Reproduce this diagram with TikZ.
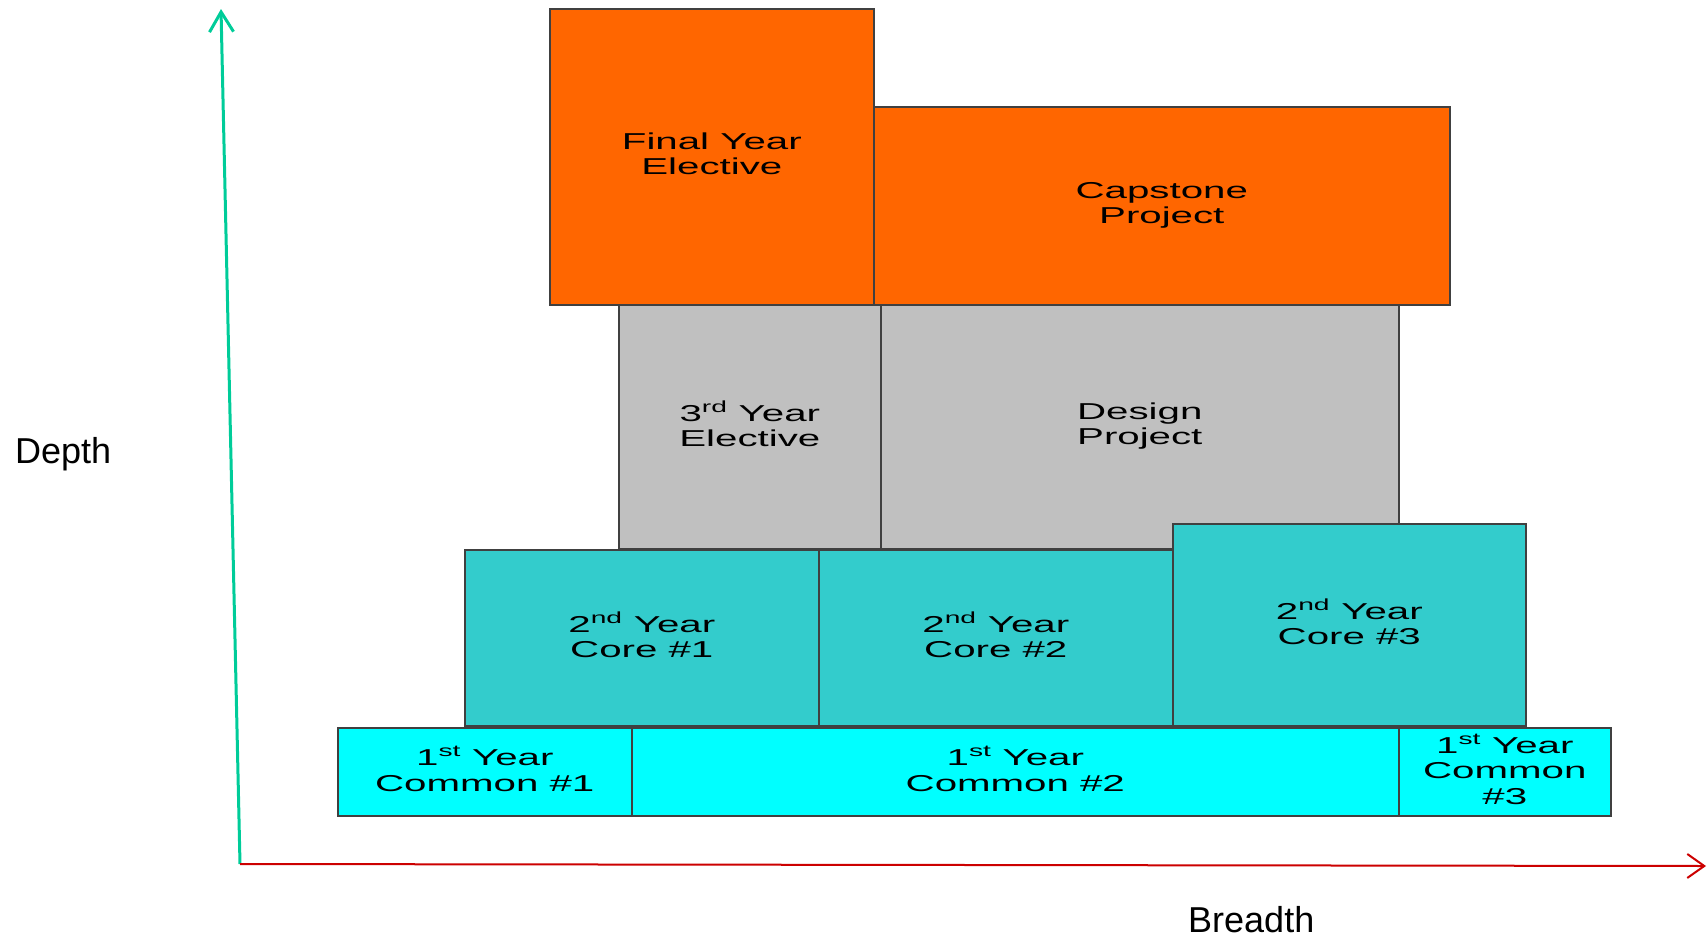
\documentclass[tikz,border=0pt]{standalone}
\usepackage{fontspec}
\setmainfont{Liberation Sans}
\newfontfamily\widefont[FakeStretch=1.75]{Liberation Sans}
\usepackage{xcolor}
\usetikzlibrary{arrows.meta}
\definecolor{hiorange}{HTML}{FF6600}
\definecolor{midgray}{HTML}{C0C0C0}
\definecolor{coreteal}{HTML}{33CCCC}
\definecolor{commoncyan}{HTML}{00FFFF}
\definecolor{axgreen}{HTML}{00CC99}
\definecolor{axred}{HTML}{CC0000}
\tikzset{blk/.style={draw=black!75,line width=1.6pt,anchor=north west,inner sep=0pt,align=center,text depth=6pt,font=\widefont\fontsize{23}{25.5}\selectfont},
         axlbl/.style={anchor=base west,inner sep=0pt,font=\fontsize{36}{40}\selectfont}}

\begin{document}
\begin{tikzpicture}[x=1pt,y=-1pt]
    \useasboundingbox (0,0) rectangle (1708,937);

    \node[blk,fill=hiorange,minimum width=324pt,minimum height=296pt] (fye) at (549,8) {Final Year\\Elective};
    \node[blk,fill=hiorange,minimum width=576pt,minimum height=198pt] (cap) at (873,106) {Capstone\\Project};
    \node[blk,fill=midgray,minimum width=262pt,minimum height=244pt] (tye) at (618,304) {3\textsuperscript{rd} Year\\Elective};
    \node[blk,fill=midgray,minimum width=518pt,minimum height=244pt] (dp) at (880,304) {Design\\Project};
    \node[blk,fill=coreteal,minimum width=354pt,minimum height=176pt] (core1) at (464,549) {2\textsuperscript{nd} Year\\Core \#1};
    \node[blk,fill=coreteal,minimum width=354pt,minimum height=176pt] (core2) at (818,549) {2\textsuperscript{nd} Year\\Core \#2};
    \node[blk,fill=coreteal,minimum width=353pt,minimum height=202pt] (core3) at (1172,523) {2\textsuperscript{nd} Year\\Core \#3};
    \node[blk,fill=commoncyan,minimum width=294pt,minimum height=88pt] (com1) at (337,727) {1\textsuperscript{st} Year\\Common \#1};
    \node[blk,fill=commoncyan,minimum width=767pt,minimum height=88pt] (com2) at (631,727) {1\textsuperscript{st} Year\\Common \#2};
    \node[blk,fill=commoncyan,minimum width=212pt,minimum height=88pt] (com3) at (1398,727) {1\textsuperscript{st} Year\\Common\\\#3};

    % axes
    \coordinate (o) at (240,864);
    \coordinate (ytop) at (221,9);
    \coordinate (xend) at (1706,866);
    \draw[axgreen,line width=3pt,-{Straight Barb[length=20pt,width=24pt,line width=3pt]}] (o) -- (ytop);
    \draw[axred,line width=2pt,-{Straight Barb[length=17pt,width=24pt,line width=2pt]}] (o) -- (xend);
    \node[axlbl] (depth) at (15,463) {Depth};
    \node[axlbl] (breadth) at (1188,932) {Breadth};
\end{tikzpicture}
\end{document}
